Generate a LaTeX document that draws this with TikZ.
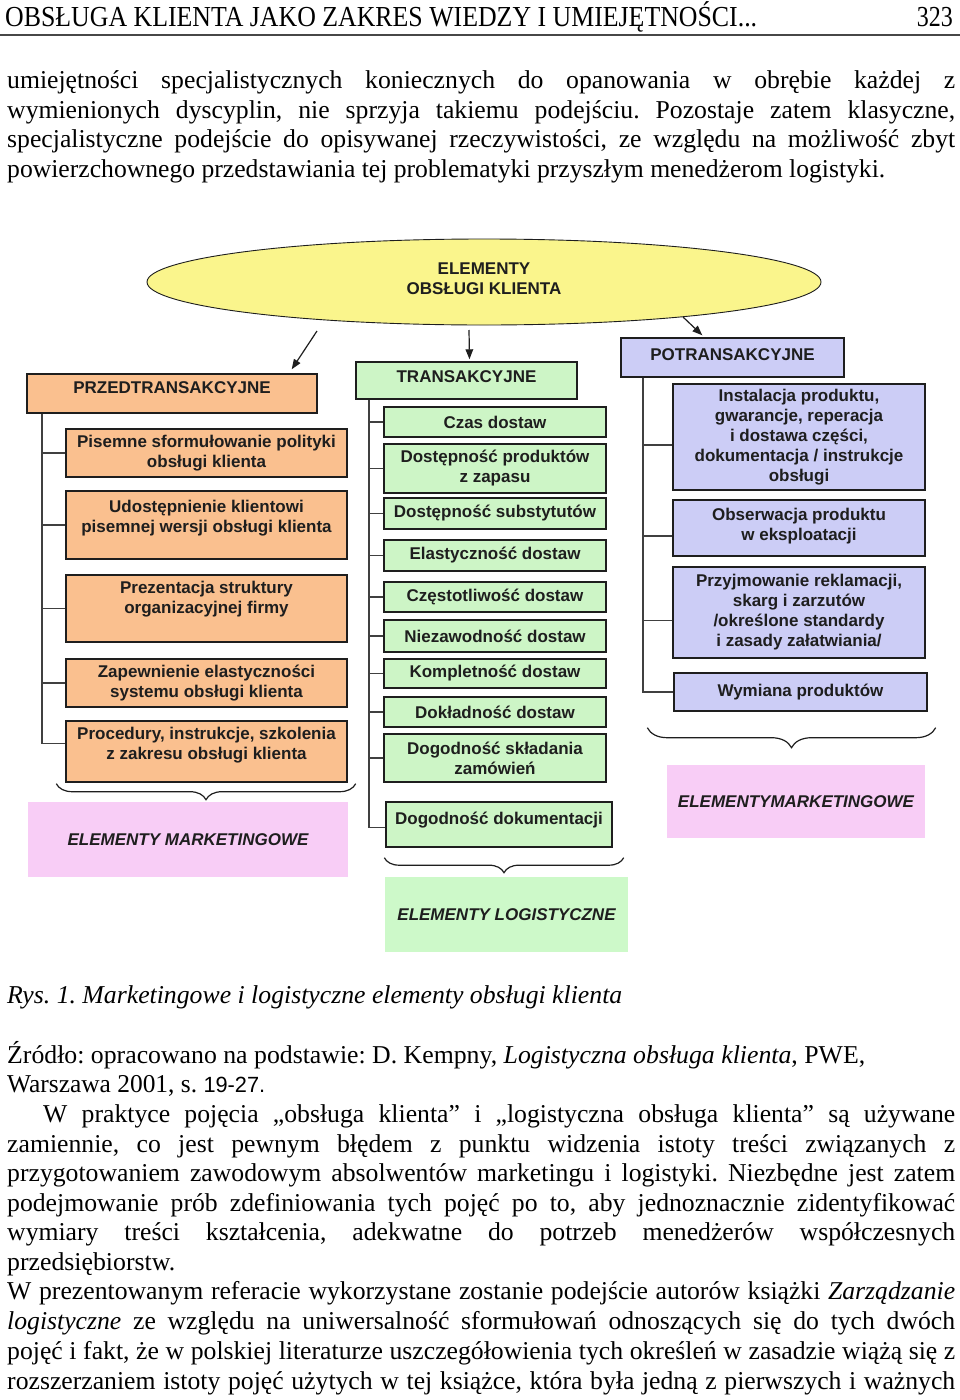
\documentclass[tikz,border=0pt]{standalone}
\usepackage{fontspec}
\setmainfont{Liberation Serif}
\setsansfont{Liberation Sans}
\usepackage{graphicx}
\usetikzlibrary{shapes.geometric,decorations.pathreplacing,arrows.meta}
\frenchspacing

\definecolor{orbox}{HTML}{FAC08F}
\definecolor{grbox}{HTML}{CDF5C6}
\definecolor{lvbox}{HTML}{CCCDF6}
\definecolor{pkbox}{HTML}{F8CDF6}
\definecolor{gnbot}{HTML}{CDF9C9}
\definecolor{ylw}{HTML}{FAF58C}
\definecolor{ink}{HTML}{1E1E1E}

\newcommand\bodyfont{\fontsize{25.7}{29.6}\selectfont}
\newcommand\dgfont{\sffamily\bfseries\fontsize{17}{20}\selectfont}
\newcommand\jline[2]{\makebox[#1pt][s]{#2}}
\newcommand\fline[2]{\resizebox{#1pt}{\height}{#2}}
\newcommand\upby[1]{\rule[-#1pt]{0pt}{#1pt}}
\newcommand\bx[6]{\node[#1, minimum width={(#4)-(#2)}, minimum height={(#5)-(#3)}] (#6) at ({((#2)+(#4))/2},{((#3)+(#5))/2})}

\tikzset{
  box/.style={draw=ink, line width=1.4pt, inner sep=0pt, align=center, font=\dgfont, text=ink},
  orb/.style={box, fill=orbox},
  grb/.style={box, fill=grbox},
  lvb/.style={box, fill=lvbox},
  botbox/.style={inner sep=0pt, font=\dgfont\itshape, text=ink},
  trunk/.style={draw=ink!85, line width=1.8pt},
  arr/.style={-{Triangle[length=10pt,width=7.5pt]}, line width=1.2pt, draw=ink},
  brc/.style={decorate, decoration={brace, mirror, amplitude=#1}, draw=ink, line width=1.2pt},
  txt/.style={anchor=base west, inner sep=0pt, font=\bodyfont},
}

\begin{document}
\begin{tikzpicture}[x=1pt,y=-1pt]
\fill[white] (0,0) rectangle (960,1400);
\useasboundingbox (0,0) rectangle (960,1400);

% ---------- page header ----------
\node[anchor=base west, inner sep=0pt] (hdr) at (5,27) {\fline{752}{\fontsize{29}{30}\selectfont OBSŁUGA KLIENTA JAKO ZAKRES WIEDZY I UMIEJĘTNOŚCI...}};
\node[anchor=base east, inner sep=0pt] (pg) at (953,27) {\fline{36}{\fontsize{29}{30}\selectfont 323}};
\draw[line width=2.2pt, draw=black!72] (0,35) -- (960,35);

% ---------- upper text ----------
\node[txt] (t1) at (7,88) {\jline{948}{umiejętności specjalistycznych koniecznych do opanowania w obrębie każdej z}};
\node[txt] (t2) at (7,118) {\jline{948}{wymienionych dyscyplin, nie sprzyja takiemu podejściu. Pozostaje zatem klasyczne,}};
\node[txt] (t3) at (7,147) {\jline{948}{specjalistyczne podejście do opisywanej rzeczywistości, ze względu na możliwość zbyt}};
\node[txt] (t4) at (7,177) {\fline{878}{powierzchownego przedstawiania tej problematyki przyszłym menedżerom logistyki.}};

% ---------- diagram ----------
\node[ellipse, draw=ink, line width=0.9pt, fill=ylw, minimum width=674, minimum height=86, inner sep=0pt, align=center, font=\dgfont, text=ink] (root) at (484,282) {ELEMENTY\\OBSŁUGI KLIENTA\upby{7}};

% column headers
\bx{orb}{27}{374}{317}{413}{pre} {PRZEDTRANSAKCYJNE\upby{11}};
\bx{grb}{356}{362}{577}{399}{tr} {TRANSAKCYJNE\upby{8}};
\bx{lvb}{621}{338}{844}{377}{pot} {POTRANSAKCYJNE\upby{5}};

\draw[arr] ([shift={(-167,49)}]root.center) -- ([shift={(-26,-4)}]pre.north east);
\draw[arr] ([shift={(-15,48)}]root.center) -- ([shift={(3,-2)}]tr.north);
\draw[arr] ([shift={(199,35)}]root.center) -- ([shift={(82,-2)}]pot.north west);

% pre-transaction
\bx{orb}{66}{429}{347}{477}{p1} {Pisemne sformułowanie polityki\\obsługi klienta};
\bx{orb}{66}{491}{347}{559}{p2} {Udostępnienie klientowi\\pisemnej wersji obsługi klienta\upby{18}};
\bx{orb}{66}{575}{347}{642}{p3} {Prezentacja struktury\\organizacyjnej firmy\upby{22}};
\bx{orb}{66}{659}{347}{707}{p4} {Zapewnienie elastyczności\\systemu obsługi klienta};
\bx{orb}{66}{721}{347}{782}{p5} {Procedury, instrukcje, szkolenia\\z zakresu obsługi klienta\upby{16}};

\coordinate (tL) at ([xshift=16]pre.south west);
\draw[trunk] (tL) |- ([yshift=8]p5.west);
\foreach \n in {p1,p2,p3,p4} \draw[trunk] (\n.west) -- (\n.west -| tL);

% transaction
\bx{grb}{384}{407}{606}{437}{g1} {Czas dostaw};
\bx{grb}{384}{444}{606}{493}{g2} {Dostępność produktów\\z zapasu};
\bx{grb}{384}{498}{606}{529}{g3} {Dostępność substytutów};
\bx{grb}{384}{540}{606}{571}{g4} {Elastyczność dostaw};
\bx{grb}{384}{582}{606}{612}{g5} {Częstotliwość dostaw};
\bx{grb}{384}{620}{606}{652}{g6} {Niezawodność dostaw};
\bx{grb}{384}{659}{606}{688}{g7} {Kompletność dostaw};
\bx{grb}{384}{697}{606}{727}{g8} {Dokładność dostaw};
\bx{grb}{384}{734}{606}{782}{g9} {Dogodność składania\\zamówień};
\bx{grb}{386}{802}{612}{847}{g10} {Dogodność dokumentacji\upby{12}};

\coordinate (tM) at ([xshift=14]tr.south west);
\draw[trunk] (tM) |- ([yshift=-3]g10.west);
\foreach \n in {g1,g2,g3,g4,g5,g6,g7,g8,g9} \draw[trunk] (\n.west) -- (\n.west -| tM);

% post-transaction
\bx{lvb}{673}{384}{925}{490}{l1} {Instalacja produktu,\\gwarancje, reperacja\\i dostawa części,\\dokumentacja / instrukcje\\obsługi};
\bx{lvb}{673}{500}{925}{556}{l2} {Obserwacja produktu\\w eksploatacji\upby{7}};
\bx{lvb}{673}{567}{925}{658}{l3} {Przyjmowanie reklamacji,\\skarg i zarzutów\\/określone standardy\\i zasady załatwiania/};
\bx{lvb}{674}{673}{927}{711}{l4} {Wymiana produktów};

\coordinate (tR) at ([xshift=23]pot.south west);
\draw[trunk] (tR) |- (l4.west);
\foreach \n in {l1,l2,l3} \draw[trunk] ([yshift=-8]\n.west) -- ([yshift=-8]\n.west -| tR);

% braces and summary boxes
\draw[brc=16pt] ([shift={(-9,1)}]p5.south west) -- ([shift={(8,1)}]p5.south east);
\draw[brc=15pt] ([shift={(-1,10)}]g10.south west) -- ([shift={(11,10)}]g10.south east);
\draw[brc=20pt] ([shift={(-26,16)}]l4.south west) -- ([shift={(8,16)}]l4.south east);

\bx{botbox, fill=pkbox}{28}{802}{348}{877}{mkL} {ELEMENTY MARKETINGOWE};
\bx{botbox, fill=gnbot}{385}{877}{628}{952}{lgM} {ELEMENTY LOGISTYCZNE};
\bx{botbox, fill=pkbox}{667}{765}{925}{838}{mkR} {ELEMENTYMARKETINGOWE};

% ---------- caption and lower text ----------
\node[txt] (cap) at (7,1003) {\fline{615}{\itshape Rys. 1. Marketingowe i logistyczne elementy obsługi klienta}};
\node[txt] (src1) at (7,1063) {\fline{858}{Źródło: opracowano na podstawie: D. Kempny, \textit{Logistyczna obsługa klienta}, PWE,}};
\node[txt] (src2) at (7,1092) {\fline{258}{Warszawa 2001, s. {\sffamily\fontsize{22}{24}\selectfont 19-27.}}};

\node[txt] (b1) at (43,1122) {\jline{912}{W praktyce pojęcia „obsługa klienta” i „logistyczna obsługa klienta” są używane}};
\node[txt] (b2) at (7,1152) {\jline{948}{zamiennie, co jest pewnym błędem z punktu widzenia istoty treści związanych z}};
\node[txt] (b3) at (7,1181) {\jline{948}{przygotowaniem zawodowym absolwentów marketingu i logistyki. Niezbędne jest zatem}};
\node[txt] (b4) at (7,1211) {\jline{948}{podejmowanie prób zdefiniowania tych pojęć po to, aby jednoznacznie zidentyfikować}};
\node[txt] (b5) at (7,1240) {\jline{948}{wymiary treści kształcenia, adekwatne do potrzeb menedżerów współczesnych}};
\node[txt] (b6) at (7,1270) {\fline{168}{przedsiębiorstw.}};
\node[txt] (b7) at (7,1299) {\jline{948}{W prezentowanym referacie wykorzystane zostanie podejście autorów książki \textit{Zarządzanie}}};
\node[txt] (b8) at (7,1329) {\jline{948}{\textit{logistyczne} ze względu na uniwersalność sformułowań odnoszących się do tych dwóch}};
\node[txt] (b9) at (7,1359) {\jline{948}{pojęć i fakt, że w polskiej literaturze uszczegółowienia tych określeń w zasadzie wiążą się z}};
\node[txt] (b10) at (7,1389) {\jline{948}{rozszerzaniem istoty pojęć użytych w tej książce, która była jedną z pierwszych i ważnych}};
\end{tikzpicture}
\end{document}
